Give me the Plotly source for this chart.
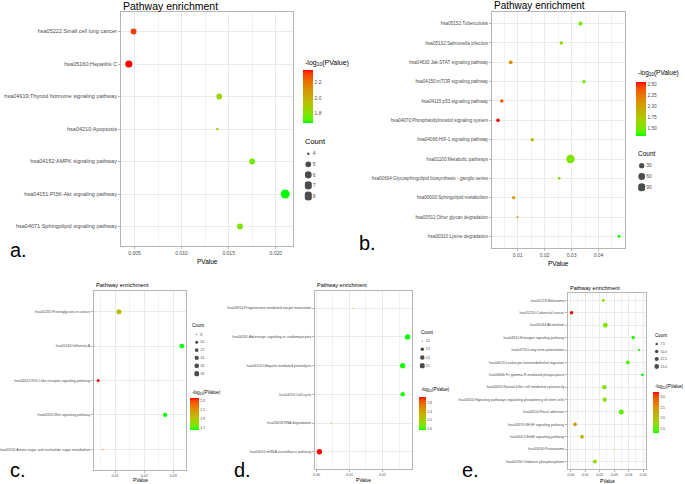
import math
import plotly.graph_objects as go

W, H = 685, 484
FONT = "Liberation Sans, Arial, sans-serif"

# ---------------- data (categories listed bottom -> top) ----------------
a_terms = ["hsa04071:Sphingolipid signaling pathway", "hsa04151:PI3K-Akt signaling pathway",
           "hsa04152:AMPK signaling pathway", "hsa04210:Apoptosis",
           "hsa04919:Thyroid hormone signaling pathway", "hsa05160:Hepatitis C",
           "hsa05222:Small cell lung cancer"]
a_pvalue = [0.0162, 0.0210, 0.0175, 0.0138, 0.0140, 0.0044, 0.0049]
a_count = [5, 8, 5, 4, 5, 6, 5]
a_count_breaks = [4, 5, 6, 7, 8]
a_color_ticks = [1.8, 2.0, 2.2]

b_terms = ["hsa00310:Lysine degradation", "hsa00511:Other glycan degradation",
           "hsa00600:Sphingolipid metabolism", "hsa00604:Glycosphingolipid biosynthesis - ganglio series",
           "hsa01100:Metabolic pathways", "hsa04066:HIF-1 signaling pathway",
           "hsa04070:Phosphatidylinositol signaling system", "hsa04115:p53 signaling pathway",
           "hsa04150:mTOR signaling pathway", "hsa04630:Jak-STAT signaling pathway",
           "hsa05132:Salmonella infection", "hsa05152:Tuberculosis"]
b_pvalue = [0.0476, 0.0099, 0.0085, 0.0254, 0.0296, 0.0154, 0.0027, 0.0041, 0.0346, 0.0074, 0.0262, 0.0333]
b_count = [7, 5, 8, 6, 100, 10, 11, 10, 9, 12, 10, 15]
b_count_breaks = [30, 60, 90]
b_color_ticks = [1.50, 1.75, 2.00, 2.25, 2.50]

c_terms = ["hsa00520:Amino sugar and nucleotide sugar metabolism", "hsa04310:Wnt signaling pathway",
           "hsa04622:RIG-I-like receptor signaling pathway", "hsa05164:Influenza A",
           "hsa05205:Proteoglycans in cancer"]
c_pvalue = [0.0058, 0.0272, 0.0042, 0.0329, 0.0113]
c_count = [8, 14, 10, 16, 17]
c_count_breaks = [8, 10, 12, 14, 16, 18]
c_color_ticks = [1.7, 1.9, 2.1, 2.3]

d_terms = ["hsa03015:mRNA surveillance pathway", "hsa03018:RNA degradation", "hsa04110:Cell cycle",
           "hsa04120:Ubiquitin mediated proteolysis", "hsa04261:Adrenergic signaling in cardiomyocytes",
           "hsa04914:Progesterone-mediated oocyte maturation"]
d_pvalue = [0.0009, 0.0045, 0.0261, 0.0261, 0.0276, 0.0111]
d_count = [15, 12, 14, 15, 15, 12]
d_count_breaks = [12, 13, 14, 15]
d_color_ticks = [1.6, 2.0, 2.4, 2.8]

e_terms = ["hsa00190:Oxidative phosphorylation", "hsa03050:Proteasome", "hsa04012:ErbB signaling pathway",
           "hsa04370:VEGF signaling pathway", "hsa04510:Focal adhesion",
           "hsa04550:Signaling pathways regulating pluripotency of stem cells",
           "hsa04650:Natural killer cell mediated cytotoxicity", "hsa04666:Fc gamma R-mediated phagocytosis",
           "hsa04670:Leukocyte transendothelial migration", "hsa04720:Long-term potentiation",
           "hsa04915:Estrogen signaling pathway", "hsa05034:Alcoholism", "hsa05210:Colorectal cancer",
           "hsa05218:Melanoma"]
e_pvalue = [0.0167, 0.0298, 0.0078, 0.0030, 0.0349, 0.0234, 0.0232, 0.0495, 0.0394, 0.0472, 0.0431, 0.0239, 0.0006, 0.0225]
e_count = [12, 6, 11, 10, 16, 13, 13, 8, 11, 7, 10, 15, 10, 8]
e_count_breaks = [7.5, 10.0, 12.5, 15.0]
e_color_ticks = [1.5, 2.0, 2.5, 3.0]


# ---------------- green -> red gradient interpolated in CIELAB ----------------
def _lin(c):
    c = c / 255.0
    return c / 12.92 if c <= 0.04045 else ((c + 0.055) / 1.055) ** 2.4


def _delin(v):
    v = 12.92 * v if v <= 0.0031308 else 1.055 * max(v, 0) ** (1 / 2.4) - 0.055
    return int(max(0, min(255, round(v * 255))))


_WN = (0.95047, 1.0, 1.08883)


def rgb2lab(rgb):
    r, g, b = [_lin(c) for c in rgb]
    X = 0.4124 * r + 0.3576 * g + 0.1805 * b
    Y = 0.2126 * r + 0.7152 * g + 0.0722 * b
    Z = 0.0193 * r + 0.1192 * g + 0.9505 * b
    d = 6 / 29

    def f(t):
        return t ** (1 / 3) if t > d ** 3 else t / (3 * d * d) + 4 / 29
    fx_, fy_, fz_ = f(X / _WN[0]), f(Y / _WN[1]), f(Z / _WN[2])
    return (116 * fy_ - 16, 500 * (fx_ - fy_), 200 * (fy_ - fz_))


def lab2rgb(lab):
    L, a, b = lab
    d = 6 / 29
    fy_ = (L + 16) / 116
    fx_ = fy_ + a / 500
    fz_ = fy_ - b / 200

    def fi(t):
        return t ** 3 if t > d else 3 * d * d * (t - 4 / 29)
    X, Y, Z = _WN[0] * fi(fx_), _WN[1] * fi(fy_), _WN[2] * fi(fz_)
    r = 3.2406 * X - 1.5372 * Y - 0.4986 * Z
    g = -0.9689 * X + 1.8758 * Y + 0.0415 * Z
    bb = 0.0557 * X - 0.2040 * Y + 1.0570 * Z
    return (_delin(r), _delin(g), _delin(bb))


lo, hi = rgb2lab((0, 255, 0)), rgb2lab((255, 0, 0))
SCALE = []
for i in range(21):
    t = i / 20
    c = lab2rgb(tuple(lo[k] + (hi[k] - lo[k]) * t for k in range(3)))
    SCALE.append([t, "rgb(%d,%d,%d)" % c])


def size_map(counts, limits, dmin, dmax):
    c0, c1 = limits
    return [dmin + math.sqrt(max(0.0, (c - c0) / (c1 - c0))) * (dmax - dmin) for c in counts]


# ---------------- panel layout (pixels) ----------------
panels = [
    dict(tag="a.", terms=a_terms, p=a_pvalue, n=a_count, breaks=a_count_breaks, bfmt="{:g}",
         cticks=a_color_ticks, cfmt=".1f", dtick=0.005, xfmt=".3f",
         rect=(121, 293, 12, 246), title=(121, 6, 10.5), yfont=5.5, xfont=5, xlab=(207, 261, 6.5),
         smin=2.5, smax=9.0, leg=dict(title=(303, 141), items=(153.7, 196), dotx=308.3, half=3.5,
                                       fs=5, tfs=7.5),
         cb=dict(x=303, w=10, y0=70, y1=123.3, title=(303, 63), fs=5, tfs=7),
         letter=(8, 250, 20), crange=None),
    dict(tag="b.", terms=b_terms, p=b_pvalue, n=b_count, breaks=b_count_breaks, bfmt="{:g}",
         cticks=b_color_ticks, cfmt=".2f", dtick=0.01, xfmt=".2f",
         rect=(492, 625, 12, 248), title=(492, 6, 10), yfont=4.6, xfont=5, xlab=(558, 263, 6.5),
         smin=2.0, smax=8.5, leg=dict(title=(636, 154), items=(165.7, 187.3), dotx=641.7, half=3.5,
                                       fs=5, tfs=6.5),
         cb=dict(x=636, w=10, y0=81.7, y1=136, title=(636, 72.7), fs=4.8, tfs=6.5),
         letter=(357, 243, 20), crange=None),
    dict(tag="c.", terms=c_terms, p=c_pvalue, n=c_count, breaks=c_count_breaks, bfmt="{:g}",
         cticks=c_color_ticks, cfmt=".1f", dtick=0.01, xfmt=".2f",
         rect=(94, 186, 291, 470), title=(94, 285, 5.8), yfont=3.6, xfont=3.6, xlab=(140, 480, 4.7),
         smin=1.2, smax=5.0, leg=dict(title=(190, 325), items=(334.3, 373.7), dotx=196.7, half=2.5,
                                       fs=3.5, tfs=4.5),
         cb=dict(x=190, w=9, y0=398, y1=430, title=(190, 393), fs=3.5, tfs=4.5),
         letter=(8, 470, 20), crange=(1.65, 2.37)),
    dict(tag="d.", terms=d_terms, p=d_pvalue, n=d_count, breaks=d_count_breaks, bfmt="{:g}",
         cticks=d_color_ticks, cfmt=".1f", dtick=0.01, xfmt=".2f",
         rect=(315, 412, 291, 469), title=(315, 285, 5.5), yfont=3.6, xfont=3.6, xlab=(363, 480, 4.7),
         smin=1.2, smax=5.3, leg=dict(title=(419.3, 332.5), items=(341, 365.7), dotx=422.3, half=2.5,
                                       fs=3.5, tfs=4.5),
         cb=dict(x=419.3, w=7, y0=397, y1=430, title=(419.3, 390), fs=3.5, tfs=4.5),
         letter=(232, 470, 20), crange=None),
    dict(tag="e.", terms=e_terms, p=e_pvalue, n=e_count, breaks=e_count_breaks, bfmt="{:.1f}",
         cticks=e_color_ticks, cfmt=".1f", dtick=0.01, xfmt=".2f",
         rect=(568, 646, 293, 469), title=(568, 288, 5.5), yfont=3.6, xfont=3.6, xlab=(607, 481, 4.7),
         smin=1.0, smax=5.0, leg=dict(title=(653, 335), items=(344, 366.5), dotx=656.7, half=2.5,
                                      fs=3.5, tfs=4.5),
         cb=dict(x=653, w=6, y0=392, y1=432.7, title=(653, 386.7), fs=3.5, tfs=4.5),
         letter=(460, 470, 20), crange=None),
]


def fx(px):
    return px / W


def fy(py):
    return 1 - py / H


def ann(text, px, py, size, color="black", xanchor="left", yanchor="middle"):
    return dict(text=text, x=fx(px), y=fy(py), xref="paper", yref="paper", showarrow=False,
                xanchor=xanchor, yanchor=yanchor, font=dict(size=size, color=color, family=FONT))


fig = go.Figure()
layout = dict(width=W, height=H, margin=dict(l=0, r=0, t=0, b=0, autoexpand=False),
              paper_bgcolor="white", plot_bgcolor="white", showlegend=False,
              font=dict(family=FONT), annotations=[])

AX_GRAY = "#4D4D4D"
LINE = "#B5B5B5"

for i, P in enumerate(panels):
    k = i + 1
    sfx = "" if k == 1 else str(k)
    ca = "coloraxis" + sfx
    x0, x1, y0, y1 = P["rect"]
    logp = [-math.log10(v) for v in P["p"]]
    lims = (min(P["n"]), max(P["n"]))
    sizes = size_map(P["n"], lims, P["smin"], P["smax"])
    fig.add_trace(go.Scatter(
        x=P["p"], y=P["terms"], mode="markers", xaxis="x" + sfx, yaxis="y" + sfx,
        marker=dict(size=sizes, color=logp, coloraxis=ca, line=dict(width=0), opacity=1),
        hoverinfo="skip"))
    pmin, pmax = min(P["p"]), max(P["p"])
    span = pmax - pmin
    layout["xaxis" + sfx] = dict(
        domain=[fx(x0), fx(x1)], anchor="y" + sfx, range=[pmin - 0.05 * span, pmax + 0.05 * span],
        dtick=P["dtick"], tickformat=P["xfmt"], showgrid=True, gridcolor="#EBEBEB", gridwidth=1,
        minor=dict(showgrid=True, dtick=P["dtick"] / 2, gridcolor="#F3F3F3", gridwidth=0.6),
        zeroline=False, showline=True, mirror=True, linecolor=LINE, linewidth=1,
        ticks="outside", ticklen=2, tickcolor=LINE, tickwidth=0.8,
        tickfont=dict(size=P["xfont"], color=AX_GRAY, family=FONT))
    n = len(P["terms"])
    layout["yaxis" + sfx] = dict(
        domain=[fy(y1), fy(y0)], anchor="x" + sfx, type="category", categoryorder="array",
        categoryarray=P["terms"], range=[-0.6, n - 0.4], showgrid=True, gridcolor="#EBEBEB",
        gridwidth=1, zeroline=False, showline=True, mirror=True, linecolor=LINE, linewidth=1,
        ticks="outside", ticklen=2, tickcolor=LINE, tickwidth=0.8,
        tickfont=dict(size=P["yfont"], color=AX_GRAY, family=FONT))

    # colour bar
    cb = P["cb"]
    cmin, cmax = P["crange"] if P["crange"] else (min(logp), max(logp))
    layout[ca] = dict(
        colorscale=SCALE, cmin=cmin, cmax=cmax,
        colorbar=dict(x=fx(cb["x"]), xanchor="left", y=fy(cb["y0"]), yanchor="top",
                      len=cb["y1"] - cb["y0"], lenmode="pixels", thickness=cb["w"],
                      thicknessmode="pixels", xpad=0, ypad=0, outlinewidth=0,
                      tickvals=P["cticks"], tickformat=P["cfmt"], ticks="",
                      tickfont=dict(size=cb["fs"], color=AX_GRAY, family=FONT)))
    layout["annotations"].append(ann("-log<sub>10</sub>(PValue)", cb["title"][0], cb["title"][1], cb["tfs"]))

    # size legend
    L = P["leg"]
    kk = k + 5
    lx = "x" + str(kk)
    ly = "y" + str(kk)
    nb = len(P["breaks"])
    sp = (L["items"][1] - L["items"][0]) / (nb - 1)
    labels = [P["bfmt"].format(b) for b in P["breaks"]]
    fig.add_trace(go.Scatter(
        x=[0] * nb, y=labels, mode="markers", xaxis=lx, yaxis=ly,
        marker=dict(size=size_map(P["breaks"], lims, P["smin"], P["smax"]), color="black",
                    line=dict(width=0)), hoverinfo="skip"))
    layout["xaxis" + str(kk)] = dict(domain=[fx(L["dotx"] - L["half"]), fx(L["dotx"] + L["half"])],
                                     anchor=ly, range=[-1, 1], visible=False)
    layout["yaxis" + str(kk)] = dict(domain=[fy(L["items"][1] + sp / 2), fy(L["items"][0] - sp / 2)],
                                     anchor=lx, type="category", categoryorder="array",
                                     categoryarray=labels, range=[nb - 0.5, -0.5], side="right",
                                     showgrid=False, zeroline=False, showline=False, ticks="",
                                     tickfont=dict(size=L["fs"], color=AX_GRAY, family=FONT))
    layout["annotations"].append(ann("Count", L["title"][0], L["title"][1], L["tfs"]))

    # titles and labels
    layout["annotations"].append(ann("Pathway enrichment", P["title"][0], P["title"][1], P["title"][2]))
    layout["annotations"].append(ann("PValue", P["xlab"][0], P["xlab"][1], P["xlab"][2], xanchor="center"))
    layout["annotations"].append(ann(P["tag"], P["letter"][0], P["letter"][1], P["letter"][2],
                                     xanchor="left", yanchor="middle"))

fig.update_layout(**layout)
fig.write_html("out.html", config={"displayModeBar": False},
               post_script="document.body.style.margin='0px';document.body.style.overflow='hidden';")
